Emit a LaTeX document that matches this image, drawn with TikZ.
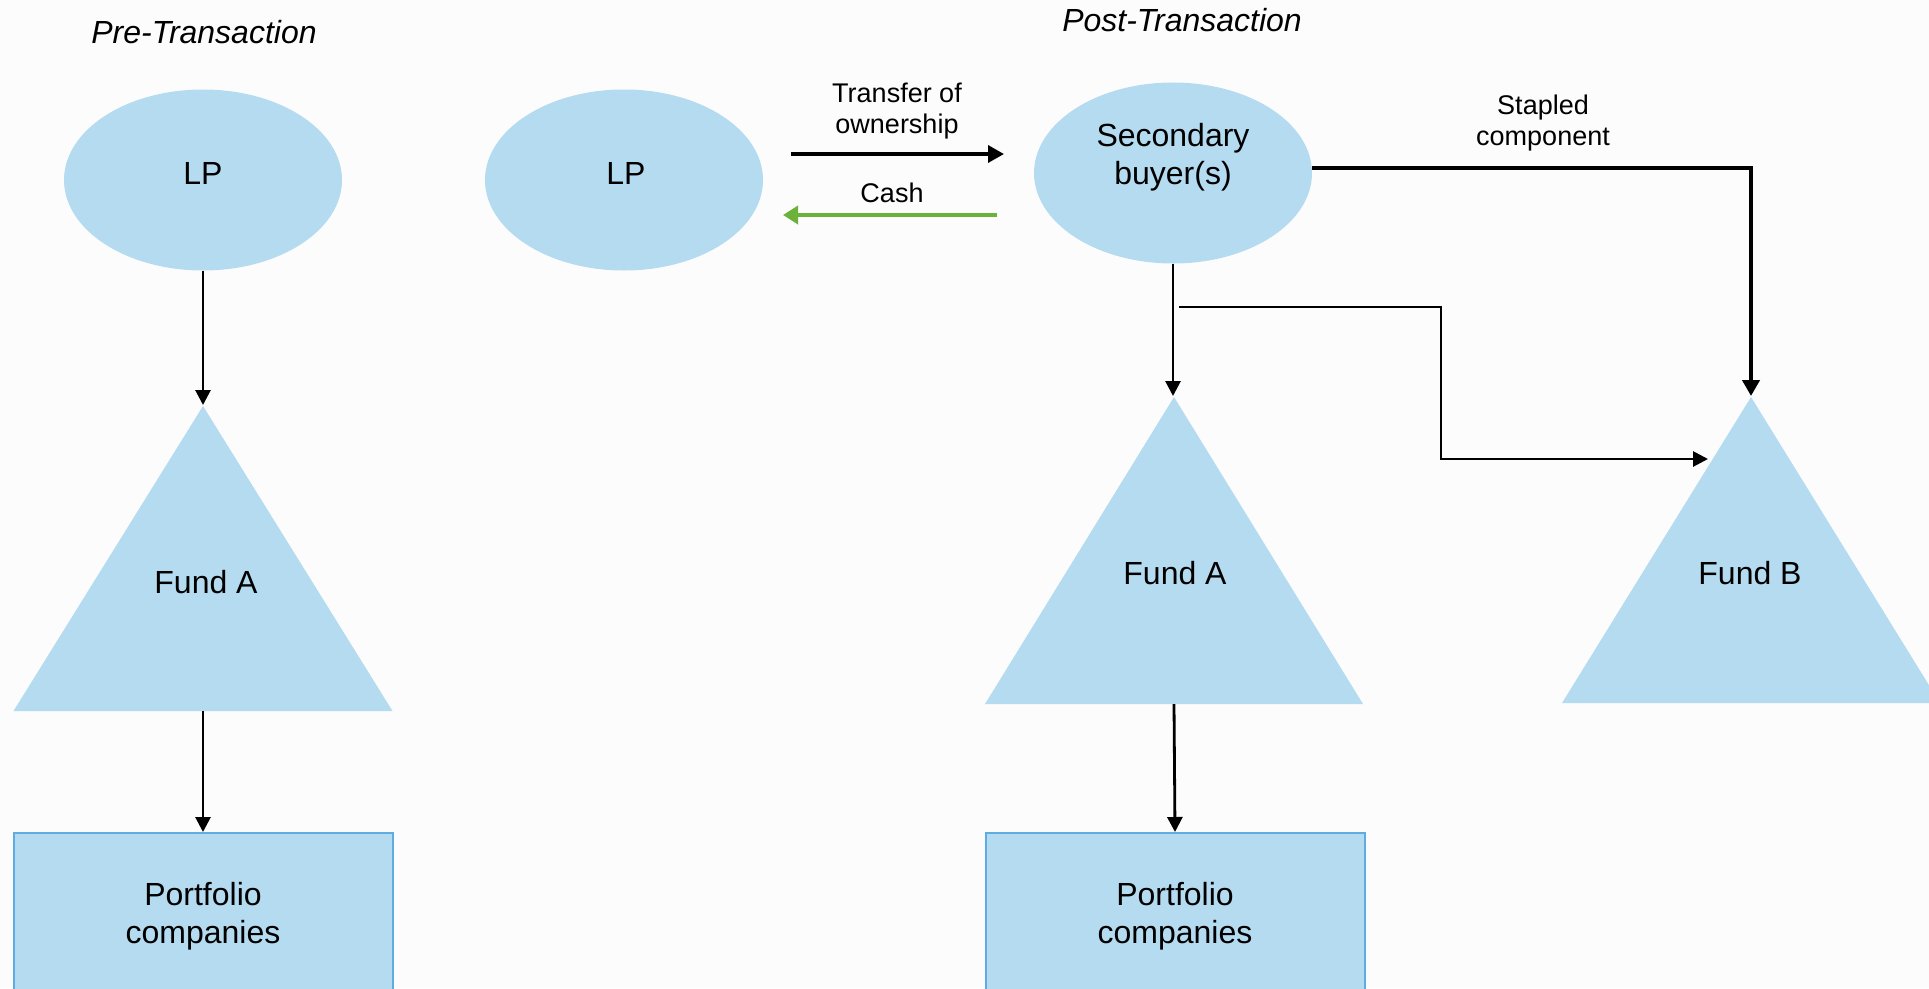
\documentclass[tikz,border=0pt]{standalone}
\usepackage{fontspec}
\setmainfont{Liberation Sans}
\usetikzlibrary{arrows.meta,shapes.geometric}
\definecolor{fillblue}{RGB}{180,219,240}
\definecolor{boxedge}{RGB}{93,173,226}
\definecolor{cashgreen}{RGB}{108,178,58}
\definecolor{bgcol}{RGB}{252,252,252}
\begin{document}
\begin{tikzpicture}[x=1pt,y=-1pt,
  big/.style={font=\fontsize{32}{38.5}\selectfont, align=center, inner sep=0pt},
  small/.style={font=\fontsize{27}{31}\selectfont, align=center, inner sep=0pt},
  title/.style={font=\fontsize{32}{36}\selectfont\itshape, inner sep=0pt},
  oval/.style={ellipse, fill=fillblue, minimum width=278pt, minimum height=181pt, inner sep=0pt},
  pbox/.style={rectangle, fill=fillblue, draw=boxedge, line width=2pt, minimum width=379pt, minimum height=162pt, anchor=north, inner sep=0pt},
  tri/.style={fill=fillblue},
  conn/.style={line width=2.8pt, -{Triangle[length=15pt,width=15pt]}},
  bold conn/.style={line width=4pt, -{Triangle[length=16pt,width=17pt]}},
  cashconn/.style={line width=3.5pt, cashgreen, -{Triangle[length=15pt,width=18pt]}}
]
\useasboundingbox (0,0) rectangle (1929,988);
\clip (0,0) rectangle (1929,988);
\fill[bgcol] (0,0) rectangle (1929,988);

% titles
\node[title] (pretitle) at (204,32) {Pre-Transaction};
\node[title] (posttitle) at (1182,20) {Post-Transaction};

% ---------- Pre-transaction ----------
\node[oval] (lpPre) at (203,180) {};
\node[big] (lpPreT) at (203,173) {LP};
\fill[tri] (203,406) -- (392.5,711) -- (13.5,711) -- cycle;
\coordinate (faPreTop) at (203,405);
\coordinate (faPreBot) at (203,711);
\node[big] (faPreT) at (206,582) {Fund A};
\node[pbox] (pcPre) at (203,832) {};
\node[big] (pcPreT) at (203,916) {Portfolio\\companies};

\draw[conn] (lpPre) -- (faPreTop);
\draw[conn] (faPreBot) -- (pcPre.north);

% ---------- Post-transaction ----------
\node[oval] (lpPost) at (624,180) {};
\node[big] (lpPostT) at (626,173) {LP};

\node[oval] (sb) at (1173,173) {};
\node[big] (sbT) at (1173,157) {Secondary\\buyer(s)};

\coordinate (trS) at (791,154);
\coordinate (trE) at (1004,154);
\draw[bold conn, line width=3.5pt] (trS) -- (trE);
\node[small] (trT) at (897,111) {Transfer of\\ownership};

\coordinate (caS) at (997,215);
\coordinate (caE) at (783,215);
\draw[cashconn] (caS) -- (caE);
\node[small] (caT) at (892,193) {Cash};

% Fund A post
\fill[tri] (1174,397) -- (1363,704) -- (985,704) -- cycle;
\coordinate (faPostTop) at (1173,396);
\coordinate (faPostBot) at (1174,704);
\node[big] (faPostT) at (1175,573) {Fund A};

% Fund B
\fill[tri] (1751,397) -- (1940,703) -- (1562,703) -- cycle;
\coordinate (fbTop) at (1751,396);
\coordinate (fbSide) at (1708,459);
\node[big] (fbT) at (1750,573) {Fund B};

% Portfolio post
\node[pbox] (pcPost) at (1175,832) {};
\node[big] (pcPostT) at (1175,916) {Portfolio\\companies};

% connectors
\draw[conn] (sb) -- (faPostTop);
\draw[conn] (faPostBot) -- (pcPost.north);
\draw[bold conn] ([yshift=5pt]sb.east) -| (fbTop);
\node[small] (stT) at (1543,123) {Stapled\\component};
\coordinate (brS) at (1179,307);
\draw[conn] (brS) -- (1441,307) |- (fbSide);
\end{tikzpicture}
\end{document}
